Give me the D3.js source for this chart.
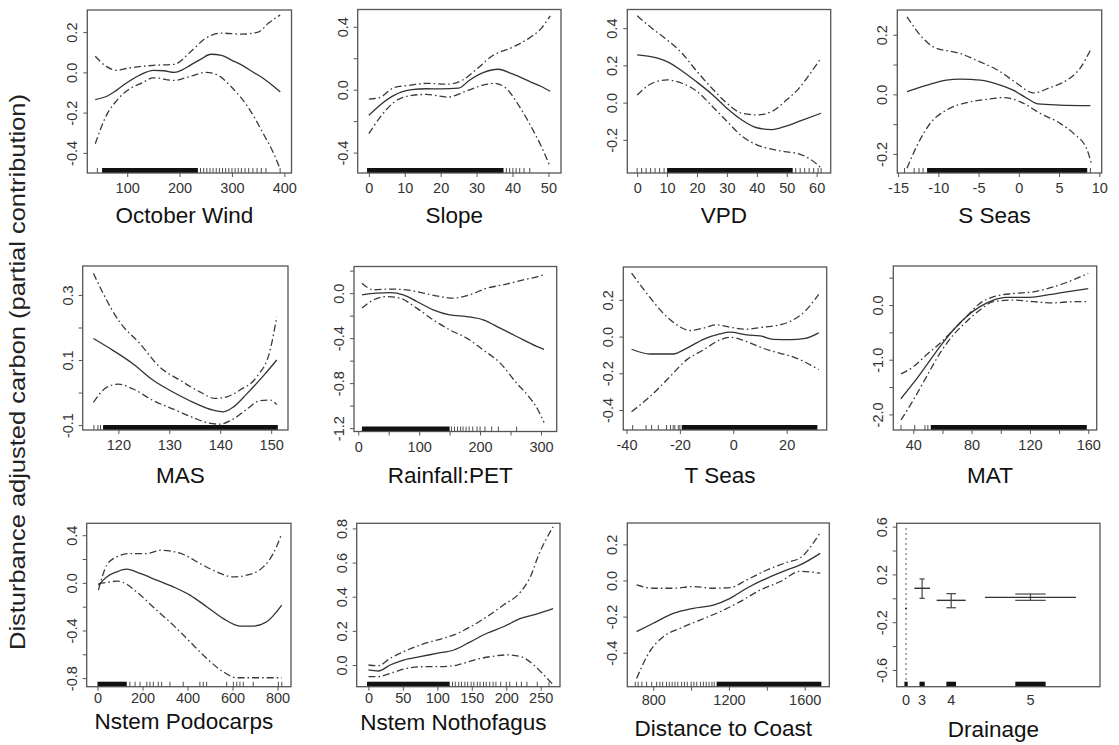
<!DOCTYPE html>
<html>
<head>
<meta charset="utf-8">
<script src="https://cdn.jsdelivr.net/npm/d3@7"></script>
<style>
  body { margin: 0; background: #fff; }
  svg text { font-family: "Liberation Sans", Arial, Helvetica, sans-serif; }
</style>
</head>
<body>
<div id="chart"></div>
<script>
// ===============================================================
// Data
// ===============================================================

// October Wind
const windFit = [[39,-0.135],[60,-0.12],[80,-0.088],[100,-0.05],[125,-0.012],[150,0.01],[170,0.008],[190,0.0],[205,0.012],[220,0.035],[240,0.065],[260,0.09],[280,0.085],[300,0.06],[320,0.035],[340,0.002],[360,-0.03],[380,-0.07],[392,-0.097]];
const windUp  = [[39,0.08],[60,0.03],[80,0.01],[100,0.02],[150,0.035],[190,0.04],[220,0.10],[250,0.17],[280,0.195],[320,0.19],[350,0.20],[370,0.245],[392,0.285]];
const windLo  = [[39,-0.355],[60,-0.215],[80,-0.14],[100,-0.09],[130,-0.05],[150,-0.027],[190,-0.04],[220,-0.02],[250,0.0],[270,-0.01],[300,-0.075],[330,-0.17],[360,-0.305],[380,-0.405],[392,-0.48]];
const windRugDense = [[52,235]];
const windRugTicks = [43,240,246,252,258,264,270,276,282,288,294,300,306,312,318,325,332,340,348,356,365,392];

// Slope
const slopeFit = [[0,-0.163],[3,-0.10],[7,-0.036],[12,0.0],[16,0.006],[20,0.005],[25,0.01],[28,0.06],[32,0.11],[36,0.13],[40,0.10],[45,0.05],[48,0.02],[50.5,-0.01]];
const slopeUp  = [[0,-0.06],[3,-0.05],[7,0.013],[12,0.03],[16,0.04],[22,0.035],[26,0.06],[30,0.13],[34,0.21],[40,0.27],[45,0.334],[48,0.39],[50.5,0.47]];
const slopeLo  = [[0,-0.28],[3,-0.18],[7,-0.08],[12,-0.036],[16,-0.03],[22,-0.047],[27,-0.01],[32,0.03],[35,0.04],[38,0.013],[42,-0.11],[46,-0.27],[48,-0.36],[50.5,-0.49]];
const slopeRugDense = [[-0.5,37.5]];
const slopeRugTicks = [38.3,39.2,40.1,41,42,43.2,44.8];

// VPD
const vpdFit = [[0,0.256],[5,0.245],[10,0.22],[15,0.17],[20,0.11],[25,0.045],[30,-0.03],[35,-0.093],[40,-0.135],[45,-0.145],[50,-0.125],[55,-0.095],[61.5,-0.057]];
const vpdUp  = [[0,0.466],[5,0.398],[10,0.337],[15,0.265],[20,0.167],[25,0.077],[30,-0.003],[35,-0.057],[40,-0.066],[45,-0.048],[50,0.015],[54,0.075],[58,0.16],[61.5,0.24]];
const vpdLo  = [[0,0.041],[5,0.104],[10,0.122],[15,0.104],[20,0.06],[25,-0.018],[30,-0.10],[35,-0.18],[40,-0.227],[45,-0.25],[50,-0.265],[54,-0.275],[58,-0.305],[61.5,-0.35]];
const vpdRugDense = [[10,52]];
const vpdRugTicks = [0,1.5,3,4.5,6,7.5,9,53,54.5,56,57.5,59,60.5,61.5];

// S Seas
const sseasFit = [[-13.9,0.009],[-11.5,0.03],[-9,0.048],[-7.3,0.051],[-4.8,0.048],[-2.3,0.031],[-0.7,0.014],[1.0,-0.013],[2.4,-0.032],[5.1,-0.036],[8.9,-0.038]];
const sseasUp  = [[-13.9,0.26],[-11.9,0.188],[-10.6,0.159],[-7.3,0.137],[-4.8,0.109],[-2.3,0.076],[-0.25,0.037],[1.8,0.005],[3.9,0.023],[6.0,0.048],[7.6,0.087],[9.0,0.154]];
const sseasLo  = [[-13.9,-0.248],[-12.7,-0.175],[-11,-0.097],[-9,-0.053],[-6.5,-0.028],[-4,-0.017],[-1.9,-0.011],[0.2,-0.025],[2.65,-0.064],[5.1,-0.097],[6.8,-0.131],[8.5,-0.187],[9.0,-0.231]];
const sseasRugDense = [[-11.4,8.5]];
const sseasRugTicks = [-14.2,-13,-12.4,-11.9,8.9];

// MAS
const masFit = [[115.1,0.166],[119,0.129],[122.9,0.088],[126.9,0.037],[130.8,0.001],[134.7,-0.030],[138.6,-0.054],[140.6,-0.059],[142.6,-0.044],[145.2,-0.004],[148.5,0.052],[151.1,0.1]];
const masUp  = [[115.1,0.367],[117,0.305],[120.2,0.218],[124.2,0.151],[128.1,0.079],[132.1,0.038],[136,0.002],[139,-0.018],[141.3,-0.013],[143.9,0.008],[147.2,0.049],[149.8,0.131],[151.1,0.233]];
const masLo  = [[115.1,-0.030],[117.7,0.016],[120,0.026],[122.9,0.011],[126.9,-0.025],[130.8,-0.051],[134.7,-0.077],[137.3,-0.092],[139.9,-0.097],[142.6,-0.081],[145.2,-0.051],[147.8,-0.025],[149.8,-0.023],[151.1,-0.037]];
const masRugDense = [[117,151.3]];
const masRugTicks = [115.2,116,116.5];

// Rainfall:PET
const rainFit = [[6,-0.015],[30,0.0],[52,0.005],[74,-0.015],[96,-0.074],[123,-0.148],[150,-0.193],[178,-0.208],[205,-0.237],[233,-0.311],[260,-0.385],[293,-0.474],[305,-0.5]];
const rainUp  = [[6,0.089],[25,0.03],[52,0.036],[79,0.03],[107,0.0],[134,-0.03],[156,-0.044],[183,-0.015],[211,0.044],[238,0.074],[271,0.118],[295,0.148],[305,0.165]];
const rainLo  = [[6,-0.133],[25,-0.06],[46.5,-0.03],[68,-0.044],[96,-0.133],[123,-0.237],[150,-0.326],[178,-0.4],[205,-0.504],[233,-0.622],[260,-0.8],[282,-0.933],[295,-1.037],[305,-1.15]];
const rainRugDense = [[6,150]];
const rainRugTicks = [153,158,163,168,172,177,182,188,195,200,208,219,230,260];

// T Seas
const tseasFit = [[-38.1,-0.069],[-31.2,-0.095],[-22.5,-0.095],[-17.5,-0.064],[-11.2,-0.015],[-5,0.015],[-1.25,0.024],[5,0.009],[10,0.004],[15,-0.015],[21.2,-0.017],[27,-0.01],[32,0.02]];
const tseasUp  = [[-38.1,0.346],[-32.5,0.237],[-26.2,0.127],[-21.2,0.064],[-16.2,0.033],[-11.2,0.046],[-6.2,0.064],[-1.25,0.051],[5,0.04],[11.2,0.051],[17.5,0.064],[21.2,0.082],[27,0.14],[32,0.23]];
const tseasLo  = [[-38.1,-0.409],[-31.2,-0.327],[-23.7,-0.218],[-17.5,-0.127],[-11.2,-0.073],[-5,-0.018],[-1.25,-0.004],[5,-0.027],[11.2,-0.064],[17.5,-0.091],[21.2,-0.105],[27,-0.14],[32,-0.18]];
const tseasRugDense = [[-19.3,31.5]];
const tseasRugTicks = [-37.7,-32.7,-30.6,-28.1,-25,-23.5,-22.5,-21.9,-20.6,-20];

// MAT
const matFit = [[31.6,-1.71],[40,-1.43],[49.1,-1.10],[58.3,-0.76],[67.4,-0.457],[76.6,-0.21],[85.7,-0.03],[94.9,0.09],[104,0.14],[117.7,0.14],[131.4,0.18],[145.1,0.24],[160,0.30]];
const matUp  = [[31.6,-1.26],[40,-1.13],[49.1,-0.91],[58.3,-0.70],[67.4,-0.457],[76.6,-0.21],[85.7,0.03],[94.9,0.15],[108.6,0.21],[122.3,0.24],[136,0.33],[149.7,0.46],[160,0.58]];
const matLo  = [[31.6,-2.10],[40,-1.74],[49.1,-1.31],[58.3,-0.88],[67.4,-0.55],[76.6,-0.30],[85.7,-0.09],[94.9,0.06],[108.6,0.09],[122.3,0.06],[136,0.04],[149.7,0.06],[159,0.06]];
const matRugDense = [[52,159]];
const matRugTicks = [31.6,41,48,50];

// Nstem Podocarps
const podoFit = [[4,-0.02],[41,0.05],[85,0.092],[130,0.115],[189,0.079],[263,0.023],[337,-0.034],[411,-0.103],[485,-0.2],[559,-0.30],[633,-0.363],[692,-0.363],[752,-0.327],[819,-0.187]];
const podoUp  = [[4,-0.061],[41,0.148],[85,0.218],[145,0.246],[219,0.246],[282,0.274],[382,0.238],[455,0.163],[530,0.092],[603,0.05],[663,0.064],[737,0.134],[781,0.246],[819,0.414]];
const podoLo  = [[4,-0.006],[41,0.003],[85,0.014],[115,0.003],[174,-0.076],[263,-0.23],[337,-0.355],[411,-0.495],[485,-0.634],[559,-0.747],[618,-0.797],[707,-0.797],[819,-0.797]];
const podoRugDense = [[0,130]];
const podoRugTicks = [144,167,189,219,233,248,270,285,322,381,455,470,485,574,604,619,633,648,692,804,819];

// Nstem Nothofagus
const nothoFit = [[0,-0.029],[14.5,-0.035],[31.5,0.0],[51,0.029],[75,0.049],[99,0.068],[124,0.088],[148,0.136],[172,0.186],[196,0.224],[221,0.273],[245,0.30],[268,0.33]];
const nothoUp  = [[0,0.0],[14.5,-0.004],[31.5,0.039],[51,0.078],[75,0.117],[99,0.146],[124,0.176],[148,0.224],[172,0.283],[196,0.351],[221,0.429],[235,0.517],[247,0.644],[268,0.81]];
const nothoLo  = [[0,-0.068],[14.5,-0.068],[31.5,-0.049],[56,-0.02],[80,-0.01],[104,-0.01],[129,0.0],[153,0.029],[177,0.049],[201,0.059],[221,0.049],[240,0.0],[250,-0.039],[268,-0.115]];
const nothoRugDense = [[-2,118]];
const nothoRugTicks = [122,126,131,135,140,144,149,153,158,162,167,171,176,181,185,192,200,205,215,222,230,245,262];

// Distance to Coast
const distFit = [[712,-0.283],[800,-0.237],[906,-0.182],[1012,-0.154],[1118,-0.136],[1206,-0.099],[1294,-0.043],[1400,0.012],[1506,0.058],[1576,0.086],[1682,0.15]];
const distUp  = [[712,-0.025],[800,-0.043],[906,-0.043],[1012,-0.034],[1118,-0.043],[1206,-0.04],[1294,0.003],[1400,0.058],[1506,0.1],[1576,0.125],[1682,0.265]];
const distLo  = [[712,-0.542],[781,-0.394],[853,-0.311],[941,-0.265],[1047,-0.219],[1153,-0.173],[1259,-0.117],[1365,-0.053],[1470,-0.007],[1576,0.05],[1682,0.04]];
const distRugDense = [[1135,1688]];
const distRugTicks = [705,720,740,765,792,818,835,850,870,885,900,915,930,950,965,980,1000,1015,1030,1050,1065,1080,1095,1110,1122];

// Drainage (factor term)
const drainLevels = ["0","3","4","5"];
const drainPos    = [4.6, 12.5, 26.8, 65.8];   // cumulative position on a 0-100 scale
const drainWidth  = [1, 7.7, 14.3, 44.8];
const drainFit    = [-0.084, 0.084, -0.017, 0.008];
const drainUp     = [0.586, 0.162, 0.039, 0.036];
const drainLo     = [-0.70, 0.0, -0.079, -0.017];

// Axis ticks and labels
const titles = ["October Wind","Slope","VPD","S Seas","MAS","Rainfall:PET","T Seas","MAT",
                "Nstem Podocarps","Nstem Nothofagus","Distance to Coast","Drainage"];
const xDomains = [[23.8,413.7],[-3.1,53.5],[-3.3,64.7],[-15.1,10.3],[113.0,153.3],[-7,325.8],
                  [-41.2,35.0],[26.3,165.8],[-48,860],[-17,278],[663,1730],[0,100]];
const yDomains = [[-0.50,0.31],[-0.53,0.51],[-0.378,0.50],[-0.264,0.283],[-0.115,0.389],[-1.23,0.237],
                  [-0.509,0.379],[-2.285,0.713],[-0.872,0.50],[-0.127,0.83],[-0.588,0.318],[-0.74,0.628]];
const xTicks = [[100,200,300,400],[0,10,20,30,40,50],[0,10,20,30,40,50,60],[-15,-10,-5,0,5,10],
                [120,130,140,150],[0,50,100,150,200,250,300],[-40,-20,0,20],
                [40,60,80,100,120,140,160],[0,200,400,600,800],[0,50,100,150,200,250],[800,1000,1200,1400,1600],[]];
const xLabels = [[100,200,300,400],[0,10,20,30,40,50],[0,10,20,30,40,50,60],[-15,-10,-5,0,5,10],
                 [120,130,140,150],[0,100,200,300],[-40,-20,0,20],[40,80,120,160],
                 [0,200,400,600,800],[0,50,100,150,200,250],[800,1200,1600],[]];
const yTicks = [[-0.4,-0.2,0,0.2],[-0.4,-0.2,0,0.2,0.4],[-0.2,0,0.2,0.4],
                [-0.2,-0.1,0,0.1,0.2],[-0.1,0,0.1,0.2,0.3],[-1.2,-1.0,-0.8,-0.6,-0.4,-0.2,0,0.2],
                [-0.4,-0.2,0,0.2],[-2.0,-1.5,-1.0,-0.5,0,0.5],[-0.8,-0.6,-0.4,-0.2,0,0.2,0.4],
                [0,0.2,0.4,0.6,0.8],[-0.4,-0.2,0,0.2],[-0.6,-0.4,-0.2,0,0.2,0.4,0.6]];
const yLabels = [[-0.4,-0.2,0,0.2],[-0.4,0,0.4],[-0.2,0,0.2,0.4],[-0.2,0,0.2],[-0.1,0.1,0.3],
                 [-1.2,-0.8,-0.4,0],[-0.4,-0.2,0,0.2],[-2.0,-1.0,0],[-0.8,-0.4,0,0.4],
                 [0,0.2,0.4,0.6,0.8],[-0.4,-0.2,0,0.2],[-0.6,-0.2,0.2,0.6]];

const yTitle = "Disturbance adjusted carbon (partial contribution)";

// ===============================================================
// Layout
// ===============================================================
const W = 1119, H = 745;
const boxes = [
  [87.3,291.5,10,173],[357.7,561,9.5,173],[627.3,830.7,9.5,173],[897.3,1101.7,10,173],
  [82.7,288,266,430],[354,556.7,266.5,431.5],[623.3,826.7,267,430],[893.3,1096.7,266,430],
  [86.7,291,523.3,686.7],[356.7,560,523.3,686.7],[627.3,829.3,523,686.7],[896.7,1100,523.3,686.7]
];
const titleBase = [222.7,222.7,222.7,222.7,483,483,483,483,729,729.5,736,737];
const tickGap   = [20,20,20,20,20,20,20,20,16.5,16.5,18,18];

const curves = [
  [windFit,windUp,windLo],[slopeFit,slopeUp,slopeLo],[vpdFit,vpdUp,vpdLo],[sseasFit,sseasUp,sseasLo],
  [masFit,masUp,masLo],[rainFit,rainUp,rainLo],[tseasFit,tseasUp,tseasLo],[matFit,matUp,matLo],
  [podoFit,podoUp,podoLo],[nothoFit,nothoUp,nothoLo],[distFit,distUp,distLo],null
];
const rugs = [
  [windRugDense,windRugTicks],[slopeRugDense,slopeRugTicks],[vpdRugDense,vpdRugTicks],[sseasRugDense,sseasRugTicks],
  [masRugDense,masRugTicks],[rainRugDense,rainRugTicks],[tseasRugDense,tseasRugTicks],[matRugDense,matRugTicks],
  [podoRugDense,podoRugTicks],[nothoRugDense,nothoRugTicks],[distRugDense,distRugTicks],null
];

const svg = d3.select('#chart').append('svg')
  .attr('width', W).attr('height', H);

const fmtY = v => (Math.abs(v) < 1e-9 ? 0 : v).toFixed(1);
const CI_DASH = '7,3,1.6,3';

titles.forEach((title, i) => {
  const [x0, x1, y0, y1] = boxes[i];
  const x = d3.scaleLinear().domain(xDomains[i]).range([x0, x1]);
  const y = d3.scaleLinear().domain(yDomains[i]).range([y1, y0]);
  const g = svg.append('g');

  // curves
  if (curves[i]) {
    const line = d3.line().x(d => x(d[0])).y(d => y(d[1])).curve(d3.curveMonotoneX);
    const [fit, up, lo] = curves[i];
    [up, lo].forEach(c => g.append('path').datum(c)
      .attr('d', line).attr('fill', 'none')
      .attr('stroke', '#3a3a3a').attr('stroke-width', 1.3)
      .attr('stroke-dasharray', CI_DASH));
    g.append('path').datum(fit)
      .attr('d', line).attr('fill', 'none')
      .attr('stroke', '#333').attr('stroke-width', 1.3);
  } else {
    // factor term: Drainage
    drainLevels.forEach((lev, j) => {
      const cx = drainPos[j], w = drainWidth[j];
      g.append('line')
        .attr('x1', x(cx)).attr('x2', x(cx))
        .attr('y1', y(drainUp[j])).attr('y2', y(drainLo[j]))
        .attr('stroke', '#444').attr('stroke-width', 1.2)
        .attr('stroke-dasharray', j === 0 ? '1.5,3.5' : null);
      g.append('line')
        .attr('x1', x(cx - w / 2)).attr('x2', x(cx + w / 2))
        .attr('y1', y(drainFit[j])).attr('y2', y(drainFit[j]))
        .attr('stroke', '#333').attr('stroke-width', 1.4);
      if (j > 0) {
        [drainUp[j], drainLo[j]].forEach(v => g.append('line')
          .attr('x1', x(cx - w / 6)).attr('x2', x(cx + w / 6))
          .attr('y1', y(v)).attr('y2', y(v))
          .attr('stroke', '#444').attr('stroke-width', 1.2));
      }
      // rug block
      const hw = Math.max(w / 6, 0.8);
      g.append('rect')
        .attr('x', x(cx - hw)).attr('width', x(cx + hw) - x(cx - hw))
        .attr('y', y1 - 5).attr('height', 5).attr('fill', '#111');
    });
    // x labels for levels
    g.selectAll('text.lev').data(drainLevels).enter().append('text')
      .attr('x', (d, j) => x(drainPos[j])).attr('y', y1 + tickGap[i])
      .attr('text-anchor', 'middle').attr('font-size', 14.5).attr('fill', '#333')
      .text(d => d);
  }

  // rug
  if (rugs[i]) {
    const [dense, ticks] = rugs[i];
    dense.forEach(([a, b]) => g.append('rect')
      .attr('x', x(a)).attr('width', x(b) - x(a))
      .attr('y', y1 - 5).attr('height', 5).attr('fill', '#111'));
    g.selectAll('line.rug').data(ticks).enter().append('line')
      .attr('x1', d => x(d)).attr('x2', d => x(d))
      .attr('y1', y1).attr('y2', y1 - 5)
      .attr('stroke', '#222').attr('stroke-width', 0.8);
  }

  // x axis
  if (xTicks[i].length) {
    const ax = g.append('g').attr('transform', `translate(0,${y1})`)
      .call(d3.axisBottom(x).tickValues(xTicks[i]).tickSize(4).tickSizeOuter(0)
        .tickFormat(d => xLabels[i].includes(d) ? String(d) : ''));
    ax.select('.domain').remove();
    ax.selectAll('line').attr('stroke', '#555');
    ax.selectAll('text').attr('font-size', 14.5).attr('fill', '#333')
      .attr('y', tickGap[i]).attr('dy', 0)
      .style('font-family', '"Liberation Sans", Arial, sans-serif');
  }

  // y axis (labels rotated, R style)
  const ay = g.append('g').attr('transform', `translate(${x0},0)`)
    .call(d3.axisLeft(y).tickValues(yTicks[i]).tickSize(4).tickSizeOuter(0)
      .tickFormat(d => yLabels[i].some(v => Math.abs(v - d) < 1e-9) ? fmtY(d) : ''));
  ay.select('.domain').remove();
  ay.selectAll('line').attr('stroke', '#555');
  ay.selectAll('text').attr('font-size', 14.5).attr('fill', '#333')
    .attr('transform', 'rotate(-90)')
    .attr('x', 0).attr('y', -10).attr('dy', 0)
    .style('text-anchor', 'middle')
    .style('font-family', '"Liberation Sans", Arial, sans-serif');

  // box
  g.append('rect')
    .attr('x', x0).attr('y', y0).attr('width', x1 - x0).attr('height', y1 - y0)
    .attr('fill', 'none').attr('stroke', '#555').attr('stroke-width', 1.3);

  // title
  g.append('text')
    .attr('x', (x0 + x1) / 2 - 5).attr('y', titleBase[i])
    .attr('text-anchor', 'middle').attr('font-size', 22.5).attr('fill', '#111')
    .text(title);
});

svg.append('text')
  .attr('transform', 'translate(25,372) rotate(-90)')
  .attr('text-anchor', 'middle').attr('font-size', 22).attr('fill', '#222')
  .attr('textLength', 556).attr('lengthAdjust', 'spacingAndGlyphs')
  .text(yTitle);
</script>
</body>
</html>
